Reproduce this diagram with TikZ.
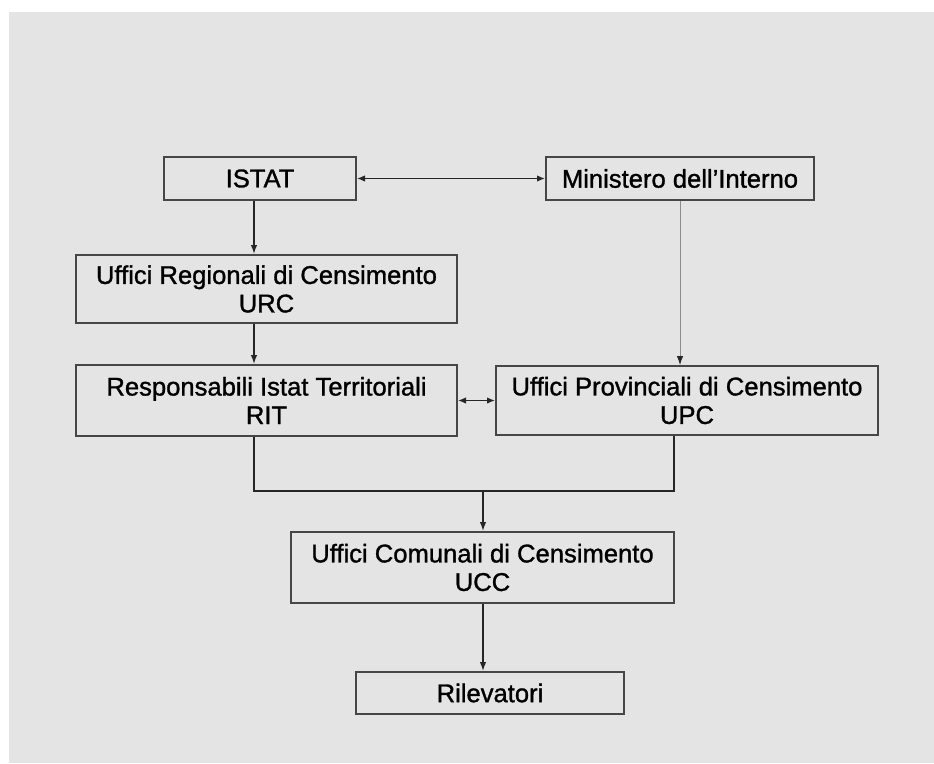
\documentclass[tikz,border=0pt]{standalone}
\usepackage{fontspec}
\setmainfont{Liberation Sans}
\newfontfamily\chartfont[Ligatures=TeX, FakeBold=1.2]{Liberation Sans}
\usepackage{tikz}
\usetikzlibrary{arrows.meta,calc}
\definecolor{panelgray}{RGB}{228,228,228}
\definecolor{edgegray}{RGB}{70,70,70}
\tikzset{
  ufficio/.style={draw=edgegray, fill=panelgray, line width=2pt, inner sep=0pt,
    align=center, font=\chartfont\fontsize{25.6}{28.5}\selectfont},      % boxes of the chart
  flowArrow/.style={-{Latex[length=9pt,width=6.5pt]}, draw=black!85, line width=1.4pt},
  twoWay/.style={{Latex[length=8pt,width=6.5pt]}-{Latex[length=8pt,width=6.5pt]},
    draw=black!85, line width=1.4pt},
  thinLink/.style={-{Latex[length=9pt,width=6.5pt,color=black!85]}, draw=black!45, line width=0.9pt},
  joinLine/.style={draw=black!85, line width=1.4pt}
}

\begin{document}
\begin{tikzpicture}[x=1pt, y=-1pt]
  % page and grey panel
  \useasboundingbox (0,0) rectangle (934,763);
  \fill[white] (0,0) rectangle (934,763);
  \fill[panelgray] (9,12) rectangle (934,763);
  % boxes
  \node[ufficio, minimum width=192, minimum height=43] (ISTAT) at (260,178.5) {ISTAT};
  \node[ufficio, minimum width=268, minimum height=43] (MIN) at (680,178.5) {Ministero dell’Interno};
  \node[ufficio, minimum width=381, minimum height=68] (URC) at (266.5,289) {Uffici Regionali di Censimento\\URC};
  \node[ufficio, minimum width=381, minimum height=71] (RIT) at (266.5,400.5) {Responsabili Istat Territoriali\\RIT};
  \node[ufficio, minimum width=382, minimum height=69] (UPC) at (687,400.5) {Uffici Provinciali di Censimento\\UPC};
  \node[ufficio, minimum width=383, minimum height=71] (UCC) at (482.5,567.5) {Uffici Comunali di Censimento\\UCC};
  \node[ufficio, minimum width=268, minimum height=42] (RIL) at (490,693) {Rilevatori};
  % columns of the connectors
  \coordinate (spine) at (254,0);
  \coordinate (ucol) at (674,0);
  \coordinate (join) at (483,491);
  % links
  \draw[twoWay] (ISTAT.east) -- (MIN.west);
  \draw[flowArrow] (ISTAT.south -| spine) -- (URC.north -| spine);
  \draw[flowArrow] (URC.south -| spine) -- (RIT.north -| spine);
  \draw[thinLink] (MIN.south) -- (UPC.north -| MIN.south);
  \draw[twoWay] (RIT.east) -- (UPC.west);
  \draw[joinLine] (RIT.south -| spine) -- (spine |- join) -- (ucol |- join) -- (UPC.south -| ucol);
  \draw[flowArrow] (join) -- (UCC.north -| join);
  \draw[flowArrow] (UCC.south -| join) -- (RIL.north -| join);
\end{tikzpicture}
\end{document}
